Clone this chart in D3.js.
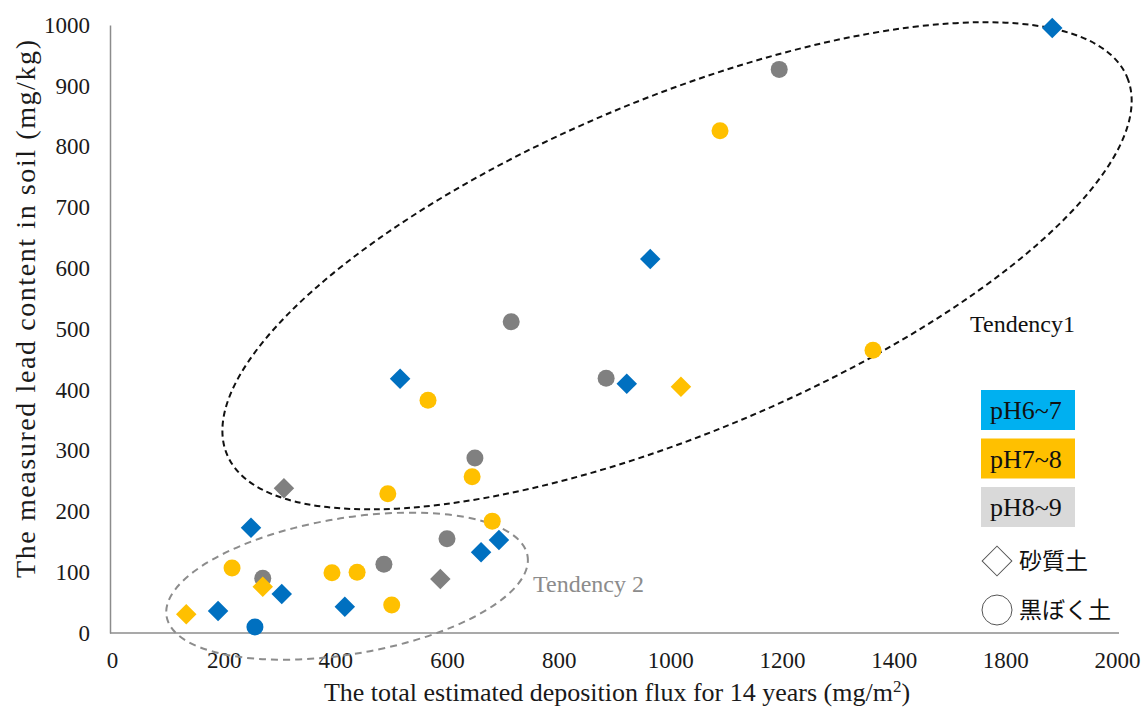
<!DOCTYPE html>
<html>
<head>
<meta charset="utf-8">
<script src="https://cdn.jsdelivr.net/npm/d3@7"></script>
<style>
  body { margin: 0; background: #fff; }
  text { font-family: "Liberation Serif", "Times New Roman", serif; }
  .jp { font-family: "Noto Sans CJK JP", sans-serif; }
</style>
</head>
<body>
<svg id="chart" width="1146" height="707"></svg>
<script>
// tick labels (the original axis skips 1600)
const xTickLabels = [0, 200, 400, 600, 800, 1000, 1200, 1400, 1800, 2000];
const yTickLabels = [0, 100, 200, 300, 400, 500, 600, 700, 800, 900, 1000];

// series: [deposition flux, lead content]
const ph67Sand = [[1884, 995], [964, 615], [516, 418], [922, 410], [249, 173], [693, 153], [661, 133], [304, 64], [190, 36], [417, 43]];
const ph67Kuroboku = [[256, 10]];
const ph78Sand = [[1019, 405], [270, 76], [133, 31]];
const ph78Kuroboku = [[1089, 826], [1363, 465], [566, 383], [645, 257], [494, 229], [681, 184], [215, 107], [394, 99], [439, 100], [501, 46]];
const ph89Sand = [[308, 238], [588, 89]];
const ph89Kuroboku = [[1195, 927], [715, 512], [885, 419], [650, 288], [600, 155], [487, 113], [270, 90]];

const legendPh = ["pH6~7", "pH7~8", "pH8~9"];
const legendSoil = ["砂質土", "黒ぼく土"];

const svg = d3.select("#chart");

const tickPos = d3.scalePoint().domain(xTickLabels).range([112, 1117]);
const x = d3.scaleLinear().domain(xTickLabels).range(xTickLabels.map(d => tickPos(d)));
const y = d3.scaleLinear().domain([0, 1000]).range([633, 25]);

// axes
const xAxis = svg.append("g")
    .attr("transform", `translate(0,${y(0)})`)
    .call(d3.axisBottom(x).tickValues(xTickLabels).tickSize(0).tickPadding(19).tickFormat(d3.format("d")));
xAxis.select(".domain").attr("stroke", "#8c8c8c").attr("stroke-width", 1.5).attr("d", `M110,0H1119`);

const yAxis = svg.append("g")
    .attr("transform", `translate(110,0)`)
    .call(d3.axisLeft(y).tickValues(yTickLabels).tickSize(0).tickPadding(20).tickFormat(d3.format("d")));
yAxis.select(".domain").attr("stroke", "#8c8c8c").attr("stroke-width", 1.5);

svg.selectAll(".tick text")
    .attr("font-family", "Liberation Serif, serif")
    .attr("font-size", 23)
    .attr("fill", "#1a1a1a");

// axis titles
svg.append("text")
    .attr("x", 617).attr("y", 701)
    .attr("text-anchor", "middle")
    .attr("font-size", 26)
    .attr("fill", "#1a1a1a")
    .html('The total estimated deposition flux for 14 years (mg/m<tspan dy="-9" font-size="17">2</tspan><tspan dy="9">)</tspan>');

svg.append("text")
    .attr("transform", "translate(35,309) rotate(-90)")
    .attr("text-anchor", "middle")
    .attr("font-size", 28)
    .attr("textLength", 538)
    .attr("lengthAdjust", "spacing")
    .attr("fill", "#1a1a1a")
    .text("The measured lead content in soil (mg/kg)");

// tendency ellipses (center in data units, radii in px)
const ellipses = [
  { cx: 1012, cy: 604, rx: 488, ry: 167, angle: -22.75, color: "#111", width: 2, dash: "6,4" },
  { cx: 421, cy: 77, rx: 183, ry: 68, angle: -9.5, color: "#8c8c8c", width: 2, dash: "7,5" }
];
svg.append("g").selectAll("ellipse")
  .data(ellipses)
  .join("ellipse")
    .attr("transform", d => `translate(${x(d.cx)},${y(d.cy)}) rotate(${d.angle})`)
    .attr("rx", d => d.rx)
    .attr("ry", d => d.ry)
    .attr("fill", "none")
    .attr("stroke", d => d.color)
    .attr("stroke-width", d => d.width)
    .attr("stroke-dasharray", d => d.dash);

svg.append("text")
    .attr("x", 970).attr("y", 332)
    .attr("font-size", 24)
    .attr("fill", "#111")
    .text("Tendency1");
svg.append("text")
    .attr("x", 533).attr("y", 592)
    .attr("font-size", 24)
    .attr("fill", "#8c8c8c")
    .text("Tendency 2");

// points
const blue = "#0070C0", yellow = "#FFC000", gray = "#808080";
const series = [
  { data: ph89Kuroboku, color: gray, shape: "circle" },
  { data: ph78Kuroboku, color: yellow, shape: "circle" },
  { data: ph67Kuroboku, color: blue, shape: "circle" },
  { data: ph89Sand, color: gray, shape: "diamond" },
  { data: ph78Sand, color: yellow, shape: "diamond" },
  { data: ph67Sand, color: blue, shape: "diamond" }
];

const sym = {
  circle: d3.symbol().type(d3.symbolCircle).size(Math.PI * 8.5 * 8.5)(),
  diamond: d3.symbol().type(d3.symbolSquare).size(14.5 * 14.5)()
};

series.forEach(s => {
  svg.append("g").selectAll("path")
    .data(s.data)
    .join("path")
      .attr("d", sym[s.shape])
      .attr("transform", d => `translate(${x(d[0])},${y(d[1])})` + (s.shape == "diamond" ? " rotate(45)" : ""))
      .attr("fill", s.color);
});

// legend
const legendColors = ["#00B0F0", "#FFC000", "#D9D9D9"];
const lg = svg.append("g");
lg.selectAll("rect")
  .data(legendPh)
  .join("rect")
    .attr("x", 981)
    .attr("y", (d, i) => 390 + i * 48.5)
    .attr("width", 94)
    .attr("height", 40)
    .attr("fill", (d, i) => legendColors[i]);
lg.selectAll("text.ph")
  .data(legendPh)
  .join("text")
    .attr("class", "ph")
    .attr("x", 990)
    .attr("y", (d, i) => 419 + i * 48.5)
    .attr("font-size", 26)
    .attr("fill", "#111")
    .text(d => d);

lg.append("path")
    .attr("d", d3.symbol().type(d3.symbolSquare).size(21 * 21)())
    .attr("transform", "translate(997,561) rotate(45)")
    .attr("fill", "#fff")
    .attr("stroke", "#555")
    .attr("stroke-width", 1);
lg.append("circle")
    .attr("cx", 997).attr("cy", 610).attr("r", 15)
    .attr("fill", "#fff")
    .attr("stroke", "#555")
    .attr("stroke-width", 1);
lg.selectAll("text.soil")
  .data(legendSoil)
  .join("text")
    .attr("class", "soil jp")
    .attr("x", 1019)
    .attr("y", (d, i) => 569 + i * 49)
    .attr("font-size", 23)
    .attr("fill", "#111")
    .text(d => d);
</script>
</body>
</html>
